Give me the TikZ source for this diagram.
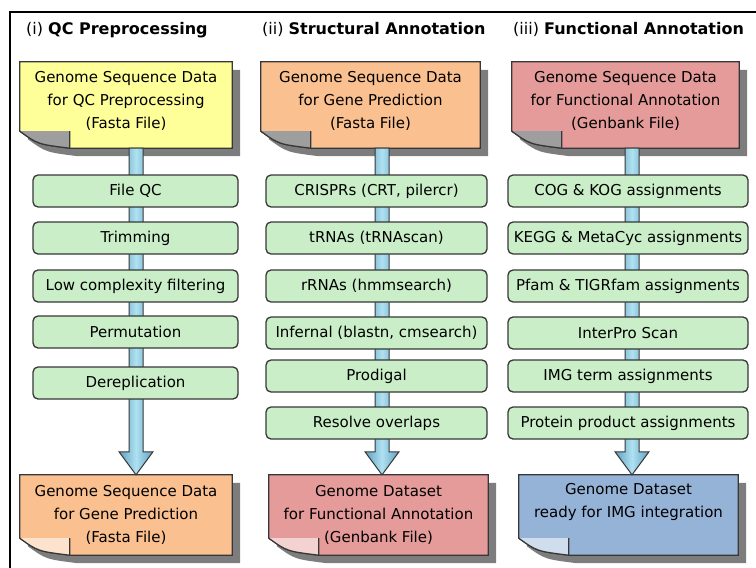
\documentclass[tikz,border=0pt]{standalone}
\usepackage{fontspec}
\setmainfont{DejaVu Sans}
\usetikzlibrary{positioning, calc, backgrounds}
\definecolor{docyellow}{RGB}{255,255,153}
\definecolor{docorange}{RGB}{250,192,144}
\definecolor{docred}{RGB}{228,155,153}
\definecolor{docblue}{RGB}{149,179,215}
\definecolor{stepgreen}{RGB}{202,238,200}
\definecolor{edgegray}{RGB}{55,55,55}
\definecolor{shadowgray}{RGB}{125,125,125}
\definecolor{arrowlight}{RGB}{175,225,240}
\definecolor{arrowdark}{RGB}{95,160,195}
\tikzstyle{paneltitle} = [anchor=base west, inner sep=0pt, font=\fontsize{16}{20}\selectfont]
\tikzstyle{docbox} = [align=center, inner sep=0pt, font=\fontsize{15}{23}\selectfont]
\tikzstyle{stepbox} = [draw=edgegray, fill=stepgreen, rounded corners=5pt, line width=1.3pt, minimum height=32, inner sep=2pt, font=\fontsize{15}{18}\selectfont]
\tikzstyle{bigarrow} = [draw=edgegray, line width=1pt, left color=arrowdark, right color=arrowdark, middle color=arrowlight]
\newcommand{\docshape}[3]{%
	\fill[shadowgray] ($(#1.north west)+(8,8)$) -- ($(#1.north east)+(8,8)$) -- ($(#1.south east)+(8,8)$) -- ($(#1.south west)+(58,8)$) .. controls ($(#1.south west)+(26,4)$) .. ($(#1.south west)+(8,-9)$) -- cycle;
	\filldraw[fill=#2, draw=edgegray, line width=1.2pt] (#1.north west) -- (#1.north east) -- (#1.south east) -- ($(#1.south west)+(50,0)$) .. controls ($(#1.south west)+(18,-4)$) .. ($(#1.south west)+(0,-17)$) -- cycle;
	\fill[#3] ($(#1.south west)+(0,-17)$) .. controls ($(#1.south west)+(18,-4)$) .. ($(#1.south west)+(50,0)$) -- ($(#1.south west)+(50,-17)$) -- cycle;
	\draw[edgegray, line width=1.2pt] ($(#1.south west)+(0,-17)$) .. controls ($(#1.south west)+(18,-4)$) .. ($(#1.south west)+(50,0)$) -- ($(#1.south west)+(50,-17)$);
}
\newcommand{\fatarrow}[3]{%
	\path[bigarrow] ($(#1.south -| #3)+(-7,0)$) -- ($(#2.north -| #3)+(-7,-23)$) -- ($(#2.north -| #3)+(-17,-23)$) -- (#2.north -| #3) -- ($(#2.north -| #3)+(17,-23)$) -- ($(#2.north -| #3)+(7,-23)$) -- ($(#1.south -| #3)+(7,0)$) -- cycle;
}

\begin{document}
\begin{tikzpicture}[x=1pt, y=-1pt]
		\useasboundingbox (0,0) rectangle (756,568);
		\clip (0,0) rectangle (756,568);
		\draw[line width=2.2pt] (10,590) -- (10,12) -- (780,12);

		\node[paneltitle] (t1) at (26,34) {(i) \textbf{QC Preprocessing}};
		\node[paneltitle] (t2) at (262,34) {(ii) \textbf{Structural Annotation}};
		\node[paneltitle] (t3) at (513,34) {(iii) \textbf{Functional Annotation}};

		\node[docbox, minimum width=212, minimum height=86, text depth=11pt] (in1) at (126,105) {Genome Sequence Data\\for QC Preprocessing\\(Fasta File)};
		\node[docbox, minimum width=219, minimum height=86, text depth=11pt] (in2) at (370.5,105) {Genome Sequence Data\\for Gene Prediction\\(Fasta File)};
		\node[docbox, minimum width=227, minimum height=86, text depth=11pt] (in3) at (625.5,105) {Genome Sequence Data\\for Functional Annotation\\(Genbank File)};

		\node[docbox, minimum width=212, minimum height=80] (out1) at (126,515) {Genome Sequence Data\\for Gene Prediction\\(Fasta File)};
		\node[docbox, minimum width=219, minimum height=80] (out2) at (378.5,515) {Genome Dataset\\for Functional Annotation\\(Genbank File)};
		\node[docbox, minimum width=219, minimum height=80] (out3) at (628.5,515) {Genome Dataset\\ready for IMG integration\\\strut};

		\coordinate (a1) at (136,0);
		\coordinate (a2) at (382,0);
		\coordinate (a3) at (632,0);

		\begin{pgfonlayer}{background}
			\docshape{in1}{docyellow}{shadowgray!75}
			\docshape{in2}{docorange}{shadowgray!75}
			\docshape{in3}{docred}{shadowgray!75}
			\docshape{out1}{docorange}{docorange!45}
			\docshape{out2}{docred}{docred!45}
			\docshape{out3}{docblue}{docblue!45}
			\fatarrow{in1}{out1}{a1}
			\fatarrow{in2}{out2}{a2}
			\fatarrow{in3}{out3}{a3}
		\end{pgfonlayer}

		\node[stepbox, minimum width=205] (qc1) at (135.5,191) {File QC};
		\node[stepbox, minimum width=205] (qc2) at (135.5,238) {Trimming};
		\node[stepbox, minimum width=205] (qc3) at (135.5,286) {Low complexity filtering};
		\node[stepbox, minimum width=205] (qc4) at (135.5,332) {Permutation};
		\node[stepbox, minimum width=205] (qc5) at (135.5,383) {Dereplication};

		\node[stepbox, minimum width=221] (sa1) at (376.5,191) {CRISPRs (CRT, pilercr)};
		\node[stepbox, minimum width=221] (sa2) at (376.5,238) {tRNAs (tRNAscan)};
		\node[stepbox, minimum width=221] (sa3) at (376.5,286) {rRNAs (hmmsearch)};
		\node[stepbox, minimum width=221] (sa4) at (376.5,333) {Infernal (blastn, cmsearch)};
		\node[stepbox, minimum width=221] (sa5) at (376.5,376) {Prodigal};
		\node[stepbox, minimum width=221] (sa6) at (376.5,423) {Resolve overlaps};

		\node[stepbox, minimum width=240] (fa1) at (628,191) {COG \& KOG assignments};
		\node[stepbox, minimum width=240] (fa2) at (628,238) {KEGG \& MetaCyc assignments};
		\node[stepbox, minimum width=240] (fa3) at (628,286) {Pfam \& TIGRfam assignments};
		\node[stepbox, minimum width=240] (fa4) at (628,333) {InterPro Scan};
		\node[stepbox, minimum width=240] (fa5) at (628,376) {IMG term assignments};
		\node[stepbox, minimum width=240] (fa6) at (628,423) {Protein product assignments};
	\end{tikzpicture}
\end{document}
